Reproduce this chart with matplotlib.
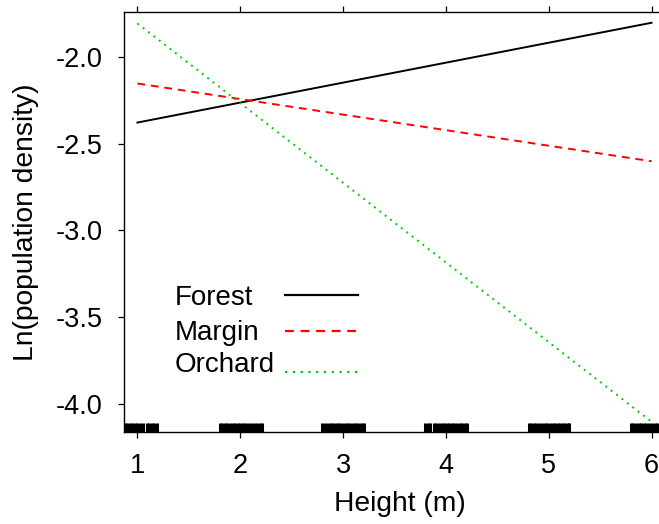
import matplotlib
matplotlib.use("Agg")
import matplotlib.pyplot as plt

plt.rcParams['font.family'] = ['Liberation Sans', 'DejaVu Sans']

# fitted lines, evaluated at the ends of the height range
heights = [1, 6]
forest = [-2.378, -1.803]
margin = [-2.153, -2.601]
orchard = [-1.807, -4.102]

# observed heights shown as a rug along the x axis
rug_heights = [
    0.80, 0.83, 0.85, 0.88, 0.90, 0.93, 0.95, 0.98, 1.00, 1.03, 1.05, 1.09, 1.11, 1.14, 1.16, 1.19,
    1.80, 1.82, 1.85, 1.87, 1.90, 1.93, 1.95, 1.98, 2.00, 2.03, 2.05, 2.08, 2.10, 2.13, 2.16, 2.19, 2.21,
    2.80, 2.82, 2.85, 2.88, 2.90, 2.93, 2.95, 2.97, 3.00, 3.03, 3.05, 3.08, 3.11, 3.13, 3.16, 3.18, 3.20,
    3.80, 3.83, 3.85, 3.88, 3.90, 3.93, 3.96, 3.98, 4.01, 4.03, 4.06, 4.08, 4.11, 4.14, 4.16, 4.19, 4.21,
    4.81, 4.83, 4.86, 4.88, 4.91, 4.93, 4.96, 4.98, 5.01, 5.04, 5.06, 5.09, 5.11, 5.14, 5.16, 5.19, 5.20,
    5.80, 5.82, 5.85, 5.88, 5.90, 5.93, 5.95, 5.98, 6.00, 6.03, 6.05, 6.08, 6.10, 6.13, 6.16, 6.18, 6.20,
]

x_ticks = [1, 2, 3, 4, 5, 6]
y_ticks = [-4.0, -3.5, -3.0, -2.5, -2.0]

series_names = ['Forest', 'Margin', 'Orchard']
series_colors = ['black', 'red', '#00cd00']
series_dashes = [None, (4, 3), (1, 2.5)]

fig = plt.figure(figsize=(6.59, 5.24), dpi=100)
ax = fig.add_axes([0.1882, 0.1756, 0.8376, 0.8015])

for vals, col, dsh in zip([forest, margin, orchard], series_colors, series_dashes):
    ln, = ax.plot(heights, vals, color=col, lw=1.4)
    if dsh:
        ln.set_dashes(dsh)

# rug ticks at the bottom of the panel
ax.vlines(rug_heights, 0, 0.022, color='black', lw=2.2,
          transform=ax.get_xaxis_transform())

ax.set_xlim(0.87, 6.238)
ax.set_ylim(-4.161, -1.741)
ax.set_xticks(x_ticks)
ax.set_yticks(y_ticks)
ax.set_yticklabels(['%.1f' % v for v in y_ticks])

ax.tick_params(axis='both', direction='out', length=4.3, width=0.9, labelsize=19.5,
               top=True, right=True)
ax.tick_params(axis='x', pad=10.5)
ax.tick_params(axis='y', pad=11)
for sp in ax.spines.values():
    sp.set_linewidth(1.0)

ax.set_xlabel('Height (m)', fontsize=20.3)
ax.set_ylabel('Ln(population density)', fontsize=20.3)
ax.xaxis.set_label_coords(0.5, -0.14)
ax.yaxis.set_label_coords(-0.154, 0.5)

# legend: left-aligned names, line samples to the right
text_base = [0.3024, 0.2190, 0.1429]
sample_y = [0.3262, 0.2405, 0.1429]
for name, col, dsh, ty, sy in zip(series_names, series_colors, series_dashes, text_base, sample_y):
    ax.text(0.091, ty, name, transform=ax.transAxes, fontsize=20,
            ha='left', va='baseline')
    ln, = ax.plot([0.2917, 0.4239], [sy, sy], color=col, lw=1.6,
                  transform=ax.transAxes)
    if dsh:
        ln.set_dashes(dsh)

fig.savefig('out.png', dpi=100)
